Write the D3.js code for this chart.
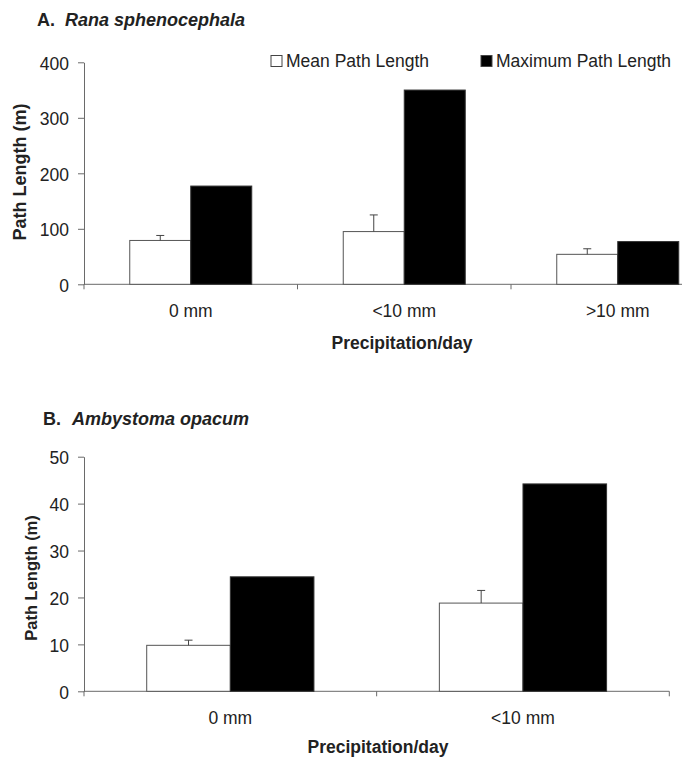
<!DOCTYPE html>
<html>
<head>
<meta charset="utf-8">
<script src="https://cdn.jsdelivr.net/npm/d3@7"></script>
<style>
  body { margin: 0; background: #fff; }
  svg { display: block; font-family: "Liberation Sans", Arial, sans-serif; }
  .axis path, .axis line { stroke: #6a6a6a; }
  .axis text { fill: #222; font-size: 17.5px; }
</style>
</head>
<body>
<svg id="chart" width="682" height="759"></svg>
<script>
// series names (legend)
const seriesNames = ['Mean Path Length', 'Maximum Path Length'];

// panel A - Rana sphenocephala
const catsA = ['0 mm', '<10 mm', '>10 mm'];
const meanA = [79, 95, 54];
const errA = [9, 30, 10];
const maxA = [177, 350, 77];
const ticksA = [0, 100, 200, 300, 400];

// panel B - Ambystoma opacum
const catsB = ['0 mm', '<10 mm'];
const meanB = [9.8, 18.8];
const errB = [1.1, 2.7];
const maxB = [24.4, 44.2];
const ticksB = [0, 10, 20, 30, 40, 50];

const svg = d3.select('#chart');

function drawPanel(p) {
    const g = svg.append('g');

    const x = d3.scaleBand()
        .domain(p.cats)
        .range([p.left, p.right])
        .paddingInner(0).paddingOuter(0);
    const inner = d3.scaleBand()
        .domain([0, 1])
        .range([0, x.bandwidth()])
        .paddingInner(0).paddingOuter(0.75);
    const y = d3.scaleLinear()
        .domain(p.domain)
        .range([p.bottom, p.top]);

    // y axis
    const yAxis = g.append('g')
        .attr('class', 'axis')
        .attr('transform', `translate(${p.left},0)`)
        .call(d3.axisLeft(y).tickValues(p.ticks).tickSize(6).tickSizeOuter(0).tickPadding(9));
    yAxis.selectAll('text').attr('dy', '0.4em');

    // x axis line + boundary ticks
    const xg = g.append('g').attr('class', 'axis');
    xg.append('line')
        .attr('x1', x.range()[0]).attr('x2', x.range()[1])
        .attr('y1', y(0)).attr('y2', y(0));
    const bounds = p.cats.map(c => x(c)).concat([x.range()[1]]);
    xg.selectAll('line.tk')
        .data(bounds)
        .join('line')
        .attr('class', 'tk')
        .attr('x1', d => d).attr('x2', d => d)
        .attr('y1', y(0)).attr('y2', y(0) + 5);
    xg.selectAll('text.cat')
        .data(p.cats)
        .join('text')
        .attr('class', 'cat')
        .attr('x', d => x(d) + x.bandwidth() / 2)
        .attr('y', y(0) + 33)
        .attr('text-anchor', 'middle')
        .text(d => d);

    const rows = p.cats.map((c, i) => ({ cat: c, mean: p.mean[i], err: p.err[i], max: p.max[i] }));

    // mean bars (white)
    g.selectAll('rect.mean')
        .data(rows)
        .join('rect')
        .attr('class', 'mean')
        .attr('x', d => x(d.cat) + inner(0))
        .attr('width', inner.bandwidth())
        .attr('y', d => y(d.mean))
        .attr('height', d => y(0) - y(d.mean))
        .attr('fill', '#fff')
        .attr('stroke', '#555');

    // max bars (black)
    g.selectAll('rect.max')
        .data(rows)
        .join('rect')
        .attr('class', 'max')
        .attr('x', d => x(d.cat) + inner(1))
        .attr('width', inner.bandwidth())
        .attr('y', d => y(d.max))
        .attr('height', d => y(0) - y(d.max))
        .attr('fill', '#000')
        .attr('stroke', '#333');

    // error bars (upper only)
    const cx = d => x(d.cat) + inner(0) + inner.bandwidth() / 2;
    g.selectAll('line.err')
        .data(rows)
        .join('line')
        .attr('class', 'err')
        .attr('x1', cx).attr('x2', cx)
        .attr('y1', d => y(d.mean)).attr('y2', d => y(d.mean + d.err))
        .attr('stroke', '#444');
    g.selectAll('line.cap')
        .data(rows)
        .join('line')
        .attr('class', 'cap')
        .attr('x1', d => cx(d) - 4).attr('x2', d => cx(d) + 4)
        .attr('y1', d => y(d.mean + d.err)).attr('y2', d => y(d.mean + d.err))
        .attr('stroke', '#444');

    // titles
    const t = g.append('text')
        .attr('y', p.titleY)
        .attr('font-size', 18).attr('font-weight', 'bold').attr('fill', '#222');
    t.append('tspan').attr('x', p.titleX).text(p.letter);
    t.append('tspan').attr('x', p.speciesX).attr('font-style', 'italic').text(p.species);

    g.append('text')
        .attr('transform', `translate(${p.yLabelX},${p.yLabelY}) rotate(-90)`)
        .attr('text-anchor', 'middle')
        .attr('font-size', p.yLabelSize).attr('font-weight', 'bold').attr('fill', '#222')
        .text('Path Length (m)');

    g.append('text')
        .attr('x', p.xLabelX).attr('y', y(0) + p.xLabelOff)
        .attr('text-anchor', 'middle')
        .attr('font-size', 17.5).attr('font-weight', 'bold').attr('fill', '#222')
        .text('Precipitation/day');
}

drawPanel({
    cats: catsA, mean: meanA, err: errA, max: maxA, ticks: ticksA, domain: [0, 400],
    left: 84, right: 724.5, top: 62.3, bottom: 284.3,
    letter: 'A.', species: 'Rana sphenocephala', titleX: 37, speciesX: 65, titleY: 26,
    yLabelX: 26, yLabelY: 172, yLabelSize: 18, xLabelX: 402, xLabelOff: 65
});

drawPanel({
    cats: catsB, mean: meanB, err: errB, max: maxB, ticks: ticksB, domain: [0, 50],
    left: 84, right: 669.3, top: 456.7, bottom: 691.3,
    letter: 'B.', species: 'Ambystoma opacum', titleX: 43, speciesX: 72, titleY: 425,
    yLabelX: 37, yLabelY: 578, yLabelSize: 16.5, xLabelX: 378, xLabelOff: 62
});

// legend
const legend = svg.append('g').attr('font-size', 17.5).attr('fill', '#222');
const legendX = [271, 481];
seriesNames.forEach((name, i) => {
    legend.append('rect')
        .attr('x', legendX[i]).attr('y', 55.5)
        .attr('width', 11).attr('height', 11)
        .attr('fill', i === 0 ? '#fff' : '#000')
        .attr('stroke', '#444');
    legend.append('text')
        .attr('x', legendX[i] + 15).attr('y', 67)
        .text(name);
});
</script>
</body>
</html>
